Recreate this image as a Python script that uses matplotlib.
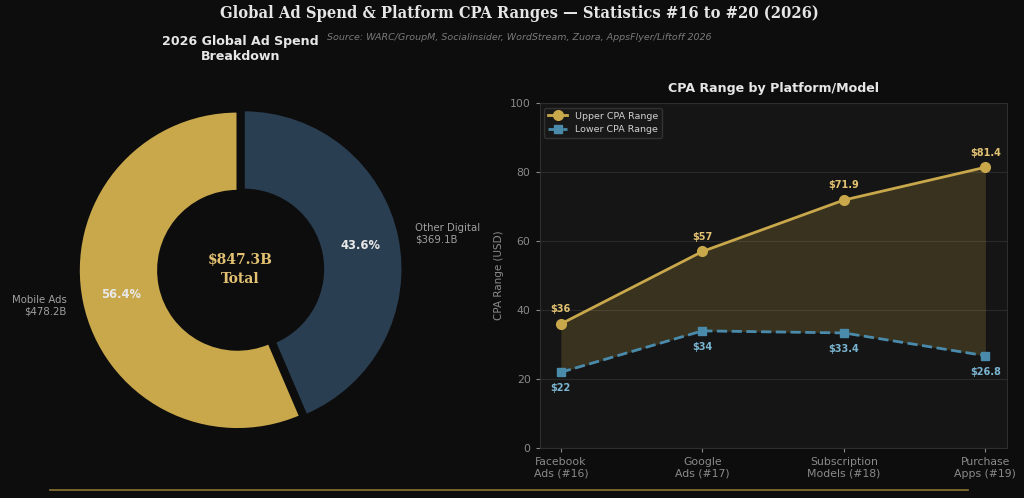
#!/usr/bin/env python3
"""
Global ad spend donut + CPA range line chart (statistics #16-#20, 2026).
"""

import matplotlib
matplotlib.use("Agg")
import matplotlib.pyplot as plt
from matplotlib.lines import Line2D

BG = "#0d0d0d"
PANEL = "#151515"
GOLD = "#c9a84c"
NAVY = "#2a3e52"
BLUE = "#4a8aab"

# donut data
spend_labels = ["Other Digital\n$369.1B", "Mobile Ads\n$478.2B"]
spend_values = [369.1, 478.2]
spend_total = "$847.3B\nTotal"

# CPA data
platforms = ["Facebook\nAds (#16)", "Google\nAds (#17)", "Subscription\nModels (#18)", "Purchase\nApps (#19)"]
cpa_upper = [36, 57, 71.9, 81.4]
cpa_lower = [22, 34, 33.4, 26.8]
upper_text = ["$36", "$57", "$71.9", "$81.4"]
lower_text = ["$22", "$34", "$33.4", "$26.8"]


def main():
    fig = plt.figure(figsize=(10.24, 4.98), dpi=100, facecolor=BG)

    # ---- donut ----
    ax1 = fig.add_axes([0.041, 0.060, 0.388, 0.797])
    ax1.set_facecolor(BG)
    wedges, texts, autotexts = ax1.pie(
        spend_values, labels=spend_labels, colors=[NAVY, GOLD],
        startangle=90, counterclock=False, explode=[0.02, 0.02],
        autopct="%1.1f%%", pctdistance=0.75, labeldistance=1.1,
        wedgeprops=dict(width=0.5, edgecolor=BG, linewidth=1.5),
        textprops=dict(color="#a0a0a0", fontsize=7.3),
    )
    for t in autotexts:
        t.set_color("#e8e8e8")
        t.set_fontweight("bold")
        t.set_fontsize(8.3)
    ax1.text(0, 0, spend_total, ha="center", va="center", color="#e2c272",
             fontsize=10, fontweight="bold", family="DejaVu Serif", linespacing=1.4)
    ax1.set_title("2026 Global Ad Spend\nBreakdown", color="#e6e6e6", fontsize=9.1,
                  fontweight="bold", pad=8)
    ax1.set_aspect("equal")

    # ---- CPA lines ----
    ax2 = fig.add_axes([0.527, 0.100, 0.456, 0.693])
    ax2.set_facecolor(PANEL)
    x = list(range(len(platforms)))
    ax2.fill_between(x, cpa_lower, cpa_upper, color=GOLD, alpha=0.2, linewidth=0)
    ax2.plot(x, cpa_upper, "-o", color=GOLD, linewidth=2, markersize=7, label="Upper CPA Range")
    ax2.plot(x, cpa_lower, "--s", color=BLUE, linewidth=2, markersize=6, label="Lower CPA Range")
    for xi, v, t in zip(x, cpa_upper, upper_text):
        ax2.annotate(t, (xi, v), xytext=(0, 7), textcoords="offset points", ha="center",
                     va="bottom", color="#e2c272", fontsize=7, fontweight="bold")
    for xi, v, t in zip(x, cpa_lower, lower_text):
        ax2.annotate(t, (xi, v), xytext=(0, -8), textcoords="offset points", ha="center",
                     va="top", color="#7ab4d0", fontsize=7, fontweight="bold")
    ax2.set_ylim(0, 100)
    ax2.set_xticks(x)
    ax2.set_xticklabels(platforms)
    ax2.set_ylabel("CPA Range (USD)", color="#8a8a8a", fontsize=7.5)
    ax2.set_title("CPA Range by Platform/Model", color="#e6e6e6", fontsize=9.1,
                  fontweight="bold", pad=8)
    ax2.tick_params(colors="#8a8a8a", labelsize=7.8, length=3)
    ax2.grid(True, axis="y", color="#2a2a2a", linewidth=0.8)
    ax2.set_axisbelow(True)
    for s in ax2.spines.values():
        s.set_color("#2e2e2e")
    ax2.legend(loc="upper left", fontsize=6.8, facecolor="#1a1a1a",
               edgecolor="#3a3a3a", labelcolor="#d0d0d0", markerscale=1.0)

    # ---- figure texts ----
    fig.text(0.507, 0.972, "Global Ad Spend & Platform CPA Ranges \u2014 Statistics #16 to #20 (2026)",
             ha="center", va="center", color="#e6e6e6", fontsize=11.8, fontweight="bold",
             family="DejaVu Serif", fontstretch="condensed")
    fig.text(0.507, 0.924, "Source: WARC/GroupM, Socialinsider, WordStream, Zuora, AppsFlyer/Liftoff 2026",
             ha="center", va="center", color="#7a7a7a", fontsize=6.8, style="italic")
    fig.add_artist(Line2D([0.049, 0.945], [0.016, 0.016], color="#8a7432", linewidth=1.2,
                          transform=fig.transFigure))

    fig.savefig("out.png", dpi=100, facecolor=BG)


if __name__ == "__main__":
    main()
